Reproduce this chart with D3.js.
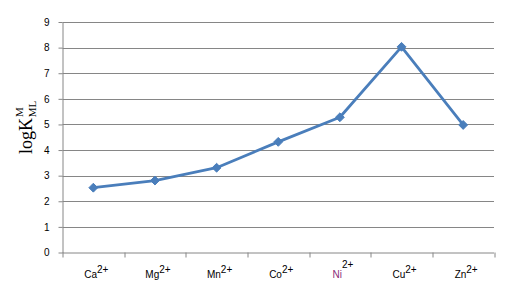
<!DOCTYPE html>
<html>
<head>
<meta charset="utf-8">
<script src="https://cdn.jsdelivr.net/npm/d3@7"></script>
<style>
  body { margin: 0; background: #fff; }
  text { font-family: "Liberation Sans", Arial, sans-serif; }
  text.ytitle { font-family: "Liberation Serif", "Times New Roman", serif; }
</style>
</head>
<body>
<div id="chart"></div>
<script>
// data
const ions = ["Ca", "Mg", "Mn", "Co", "Ni", "Cu", "Zn"];
const charges = ["2+", "2+", "2+", "2+", "2+", "2+", "2+"];
const logK = [2.53, 2.81, 3.31, 4.32, 5.28, 8.03, 4.98];
const yTicks = [0, 1, 2, 3, 4, 5, 6, 7, 8, 9];

const width = 519, height = 305;
const margin = {top: 22, right: 25, bottom: 52.5, left: 62.5};

let svg = d3.select("#chart")
    .append("svg")
    .attr("width", width)
    .attr("height", height);

let plot = svg.append("g")
    .attr("transform", `translate(${margin.left}, ${margin.top})`);

let innerW = width - margin.left - margin.right;
let innerH = height - margin.top - margin.bottom;

let x = d3.scaleBand()
    .domain(ions)
    .range([0, innerW]);

let y = d3.scaleLinear()
    .domain([0, 9])
    .range([innerH, 0]);

// gridlines
plot.append("g")
    .selectAll("line")
    .data(yTicks.filter(d => d > 0))
    .enter()
    .append("line")
    .attr("x1", 0)
    .attr("x2", innerW)
    .attr("y1", d => Math.round(y(d)) + 0.5)
    .attr("y2", d => Math.round(y(d)) + 0.5)
    .attr("stroke", "#868686")
    .attr("stroke-width", 1);

// y axis
let yAxis = plot.append("g")
    .call(d3.axisLeft(y).tickValues(yTicks).tickSize(4).tickPadding(9).tickSizeOuter(0));
yAxis.select(".domain").attr("stroke", "#868686");
yAxis.selectAll(".tick line").attr("stroke", "#868686");
yAxis.selectAll(".tick text")
    .attr("font-size", 10)
    .attr("fill", "#000");

// x axis (ticks at band edges)
let xAxisG = plot.append("g")
    .attr("transform", `translate(0, ${innerH})`);
xAxisG.append("line")
    .attr("x1", 0).attr("x2", innerW)
    .attr("y1", 0.5).attr("y2", 0.5)
    .attr("stroke", "#868686");
let edges = ions.map(d => x(d)).concat([innerW]);
xAxisG.selectAll(".edge")
    .data(edges)
    .enter()
    .append("line")
    .attr("class", "edge")
    .attr("x1", d => Math.round(d) + 0.5)
    .attr("x2", d => Math.round(d) + 0.5)
    .attr("y1", 0)
    .attr("y2", 5)
    .attr("stroke", "#868686");

// category labels with superscript charge
let labels = xAxisG.selectAll(".cat")
    .data(ions)
    .enter()
    .append("text")
    .attr("class", "cat")
    .attr("x", d => x(d) + x.bandwidth() / 2 + 3)
    .attr("y", 25.5)
    .attr("text-anchor", "middle")
    .attr("font-size", 10)
    .attr("fill", d => d === "Ni" ? "#8a2d78" : "#000");
labels.append("tspan").text(d => d);
labels.append("tspan")
    .attr("dy", d => d === "Ni" ? -10 : -5)
    .attr("font-size", 10)
    .attr("fill", "#000")
    .text((d, i) => charges[i]);

// line
let line = d3.line()
    .x((d, i) => x(ions[i]) + x.bandwidth() / 2)
    .y(d => y(d));

plot.append("path")
    .datum(logK)
    .attr("d", line)
    .attr("fill", "none")
    .attr("stroke", "#4a7ebb")
    .attr("stroke-width", 2.8)
    .attr("stroke-linejoin", "round");

// diamond markers
plot.selectAll(".pt")
    .data(logK)
    .enter()
    .append("path")
    .attr("class", "pt")
    .attr("d", d3.symbol().type(d3.symbolDiamond2).size(50))
    .attr("transform", (d, i) => `translate(${x(ions[i]) + x.bandwidth() / 2}, ${y(d)})`)
    .attr("fill", "#4a7ebb")
    .attr("stroke", "#4a7ebb");

// y axis title: log K with stacked M / ML
let title = svg.append("text")
    .attr("class", "ytitle")
    .attr("transform", `translate(32, 154) rotate(-90)`)
    .attr("fill", "#000");
title.append("tspan")
    .attr("font-size", 18)
    .text("logK");
title.append("tspan")
    .attr("font-size", 11)
    .attr("dx", 1)
    .attr("dy", -9)
    .text("M");
title.append("tspan")
    .attr("font-size", 11)
    .attr("dx", -10)
    .attr("dy", 13)
    .text("ML");
</script>
</body>
</html>
